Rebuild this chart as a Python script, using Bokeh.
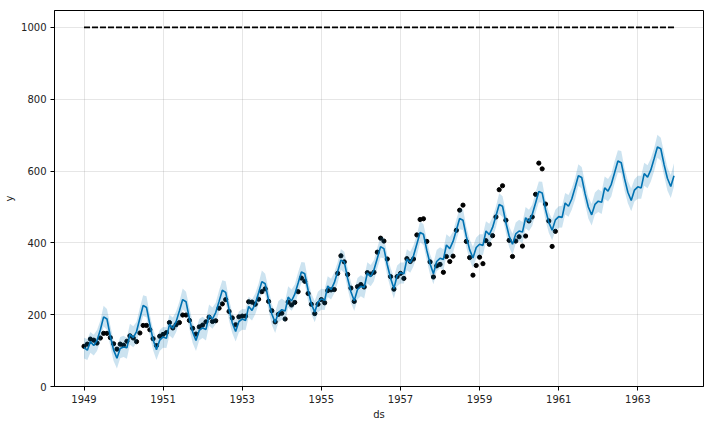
import pandas as pd
from bokeh.plotting import figure
from bokeh.models import ColumnDataSource, Range1d, FixedTicker, DatetimeTickFormatter
from bokeh.embed import file_html
from bokeh.resources import INLINE

# observed monthly passengers (history)
y_actual = [
    112, 118, 132, 129, 121, 135, 148, 148, 136, 119, 104, 118,
    115, 126, 141, 135, 125, 149, 170, 170, 158, 133, 114, 140,
    145, 150, 178, 163, 172, 178, 199, 199, 184, 162, 146, 166,
    171, 180, 193, 181, 183, 218, 230, 242, 209, 191, 172, 194,
    196, 196, 236, 235, 229, 243, 264, 272, 237, 211, 180, 201,
    204, 188, 235, 227, 234, 264, 302, 293, 259, 229, 203, 229,
    242, 233, 267, 269, 270, 315, 364, 347, 312, 274, 237, 278,
    284, 277, 317, 313, 318, 374, 413, 405, 355, 306, 271, 306,
    315, 301, 356, 348, 355, 422, 465, 467, 404, 347, 305, 336,
    340, 318, 362, 348, 363, 435, 491, 505, 404, 359, 310, 337,
    360, 342, 406, 396, 420, 472, 548, 559, 463, 407, 362, 405,
    417, 391, 419, 461, 472, 535, 622, 606, 508, 461, 390, 432,
]

# forecast (yhat), Jan 1949 .. Dec 1963
yhat = [
    108, 101, 125, 114, 128, 158, 194, 188, 140, 102, 79, 106,
    110, 108, 145, 136, 153, 190, 226, 220, 173, 130, 102, 129,
    138, 134, 173, 162, 180, 211, 242, 236, 189, 152, 128, 156,
    163, 159, 198, 188, 206, 237, 268, 262, 215, 177, 153, 181,
    188, 184, 223, 212, 230, 261, 292, 286, 240, 202, 178, 206,
    214, 210, 249, 238, 257, 288, 319, 314, 268, 230, 207, 236,
    244, 240, 280, 270, 289, 320, 352, 347, 301, 264, 239, 270,
    279, 276, 316, 306, 325, 357, 389, 384, 339, 302, 273, 309,
    317, 314, 355, 345, 364, 397, 429, 424, 379, 342, 314, 348,
    357, 354, 394, 384, 404, 436, 468, 463, 418, 381, 358, 387,
    396, 393, 433, 423, 443, 475, 507, 502, 456, 419, 396, 425,
    433, 430, 470, 460, 479, 511, 543, 539, 493, 457, 435, 464,
    473, 471, 511, 502, 522, 554, 587, 582, 537, 500, 478, 507,
    516, 513, 553, 544, 563, 596, 628, 623, 578, 541, 518, 547,
    556, 553, 593, 583, 603, 635, 667, 662, 617, 580, 557, 587,
]

yhat_lower = [
    78, 74, 94, 86, 99, 126, 167, 158, 112, 71, 50, 79,
    82, 77, 116, 109, 121, 162, 196, 193, 142, 101, 74, 99,
    108, 107, 142, 134, 151, 179, 215, 206, 161, 121, 99, 129,
    135, 128, 169, 161, 174, 209, 238, 235, 184, 148, 125, 151,
    158, 157, 192, 184, 201, 229, 265, 256, 212, 171, 149, 179,
    186, 179, 220, 211, 225, 260, 289, 287, 237, 201, 179, 206,
    214, 213, 249, 242, 260, 288, 325, 317, 273, 233, 210, 243,
    251, 245, 287, 279, 293, 329, 359, 357, 308, 273, 245, 279,
    287, 287, 324, 317, 335, 365, 402, 394, 351, 311, 285, 321,
    329, 323, 365, 357, 372, 408, 438, 436, 387, 352, 330, 357,
    366, 366, 402, 395, 414, 443, 480, 472, 428, 388, 367, 398,
    405, 399, 441, 433, 447, 483, 513, 512, 462, 428, 407, 434,
    442, 443, 479, 473, 492, 521, 559, 551, 508, 468, 448, 479,
    486, 480, 522, 515, 529, 566, 596, 594, 545, 510, 488, 515,
    523, 523, 559, 552, 571, 600, 637, 629, 586, 546, 525, 557,
]

yhat_upper = [
    136, 132, 152, 144, 157, 184, 225, 216, 170, 129, 108, 138,
    141, 136, 175, 168, 180, 220, 254, 251, 200, 159, 133, 157,
    166, 165, 200, 192, 209, 237, 273, 264, 219, 179, 157, 188,
    194, 187, 228, 220, 233, 267, 296, 293, 242, 206, 184, 209,
    216, 215, 250, 242, 259, 287, 323, 314, 270, 229, 207, 238,
    245, 238, 279, 270, 284, 318, 347, 345, 295, 259, 238, 264,
    272, 271, 307, 300, 318, 346, 383, 375, 331, 291, 268, 302,
    310, 304, 346, 338, 352, 387, 417, 415, 366, 331, 304, 337,
    345, 345, 382, 375, 393, 423, 460, 452, 409, 369, 343, 380,
    388, 382, 424, 416, 431, 466, 496, 494, 445, 410, 389, 415,
    424, 424, 460, 453, 472, 501, 538, 530, 486, 446, 425, 457,
    464, 458, 500, 492, 506, 541, 571, 570, 520, 486, 466, 492,
    502, 503, 539, 533, 552, 581, 619, 611, 568, 528, 508, 540,
    549, 543, 585, 578, 592, 628, 658, 656, 607, 572, 551, 577,
    587, 587, 623, 616, 635, 664, 701, 693, 650, 610, 589, 622,
]

cap_value = 1000
x_tick_years = [1949, 1951, 1953, 1955, 1957, 1959, 1961, 1963]
y_ticks = [0, 200, 400, 600, 800, 1000]

ds_all = pd.date_range("1949-01-01", periods=len(yhat), freq="MS")
ds_hist = ds_all[:len(y_actual)]

hist = ColumnDataSource(dict(ds=ds_hist, y=y_actual))
fc = ColumnDataSource(dict(ds=ds_all, yhat=yhat, lo=yhat_lower, hi=yhat_upper,
                           cap=[cap_value] * len(yhat)))

span = ds_all[-1] - ds_all[0]
x0 = (ds_all[0] - 0.05 * span).to_pydatetime()
x1 = (ds_all[-1] + 0.05 * span).to_pydatetime()

p = figure(width=705, height=422, x_axis_type="datetime",
           x_range=Range1d(x0, x1), y_range=Range1d(0, 1047),
           output_backend="svg", toolbar_location=None,
           min_border_left=54, min_border_right=2, min_border_top=10, min_border_bottom=36)

p.scatter("ds", "y", source=hist, size=4.2, color="black")
p.line("ds", "yhat", source=fc, line_color="#0072B2", line_width=1.6)
p.line("ds", "cap", source=fc, line_color="black", line_width=1.6, line_dash="6 2")
p.varea(x="ds", y1="lo", y2="hi", source=fc, fill_color="#0072B2", fill_alpha=0.2)

tick_ms = [pd.Timestamp(f"{yr}-01-01").value / 1e6 for yr in x_tick_years]
p.xaxis.ticker = FixedTicker(ticks=tick_ms)
p.xaxis.formatter = DatetimeTickFormatter(years="%Y", months="%Y", days="%Y",
                                          hours="%Y", minutes="%Y", seconds="%Y")
p.yaxis.ticker = FixedTicker(ticks=y_ticks)

p.xaxis.axis_label = "ds"
p.yaxis.axis_label = "y"
for ax in (p.xaxis, p.yaxis):
    ax.axis_label_text_font = "DejaVu Sans"
    ax.axis_label_text_font_size = "10px"
    ax.axis_label_text_font_style = "normal"
    ax.axis_label_text_color = "#222222"
    ax.major_label_text_font = "DejaVu Sans"
    ax.major_label_text_font_size = "10px"
    ax.major_label_text_color = "#222222"
    ax.axis_line_color = "black"
    ax.major_tick_line_color = "black"
    ax.major_tick_out = 4
    ax.major_tick_in = 0
    ax.minor_tick_out = 0
    ax.minor_tick_in = 0
    ax.major_label_standoff = 4
    ax.axis_label_standoff = 3

p.grid.grid_line_color = "gray"
p.grid.grid_line_alpha = 0.2
p.grid.grid_line_width = 1
p.outline_line_color = "black"
p.outline_line_alpha = 1
p.outline_line_width = 1
p.background_fill_color = "white"
p.border_fill_color = "white"

open("out.html", "w").write(file_html(p, INLINE))
